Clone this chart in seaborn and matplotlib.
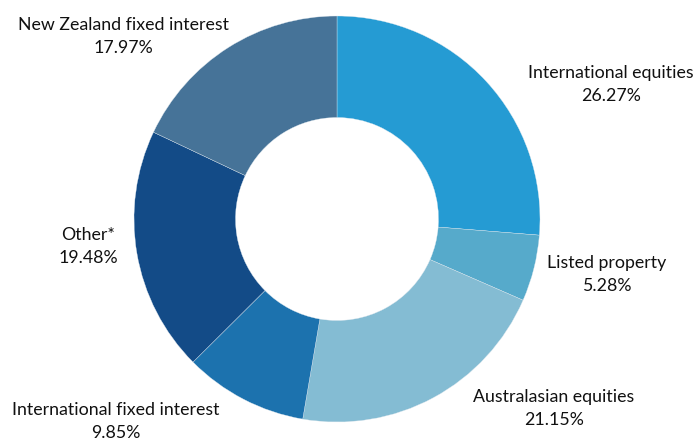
import matplotlib
matplotlib.use("Agg")
import matplotlib.pyplot as plt
import matplotlib.patheffects as pe
import numpy as np
import seaborn as sns

# data, in drawing order (clockwise from 12 o'clock)
categories = [
    "International equities",
    "Listed property",
    "Australasian equities",
    "International fixed interest",
    "Other*",
    "New Zealand fixed interest",
]
shares = [26.27, 5.28, 21.15, 9.85, 19.48, 17.97]

# styling
colors = ["#259BD3", "#56AACB", "#84BCD3", "#1C72AE", "#134B87", "#467398"]
# label centres in pixels (x from left, y of the first line from top)
label_px = [(611, 73), (607, 263), (554, 397), (116, 410), (88, 235), (123, 25)]

W, H = 697, 439
CX, CY, R = 337, 220, 203
LINE_GAP = 23

sns.set_theme(style="white")
plt.rcParams["font.family"] = ["Lato", "DejaVu Sans"]

fig = plt.figure(figsize=(W / 100, H / 100), dpi=100)
ax = fig.add_axes([0, 0, 1, 1])

wedges, _ = ax.pie(
    shares,
    colors=colors,
    startangle=90,
    counterclock=False,
    radius=1.0,
    center=(0, 0),
    wedgeprops=dict(width=0.5, edgecolor="#dfe8ef", linewidth=0.25),
)

ax.set_xlim(-CX / R, (W - CX) / R)
ax.set_ylim(-(H - CY) / R, CY / R)
ax.set_aspect("equal")
ax.axis("off")


def px_to_data(px, py):
    return (px - CX) / R, (CY - py) / R


for name, val, (lx, ly) in zip(categories, shares, label_px):
    x0, y0 = px_to_data(lx, ly)
    x1, y1 = px_to_data(lx, ly + LINE_GAP)
    ax.text(x0, y0, name, ha="center", va="center", fontsize=12.8, color="#111111")
    ax.text(x1, y1, f"{val:.2f}%", ha="center", va="center", fontsize=12.8, color="#111111")

fig.savefig("out.png", dpi=100)
